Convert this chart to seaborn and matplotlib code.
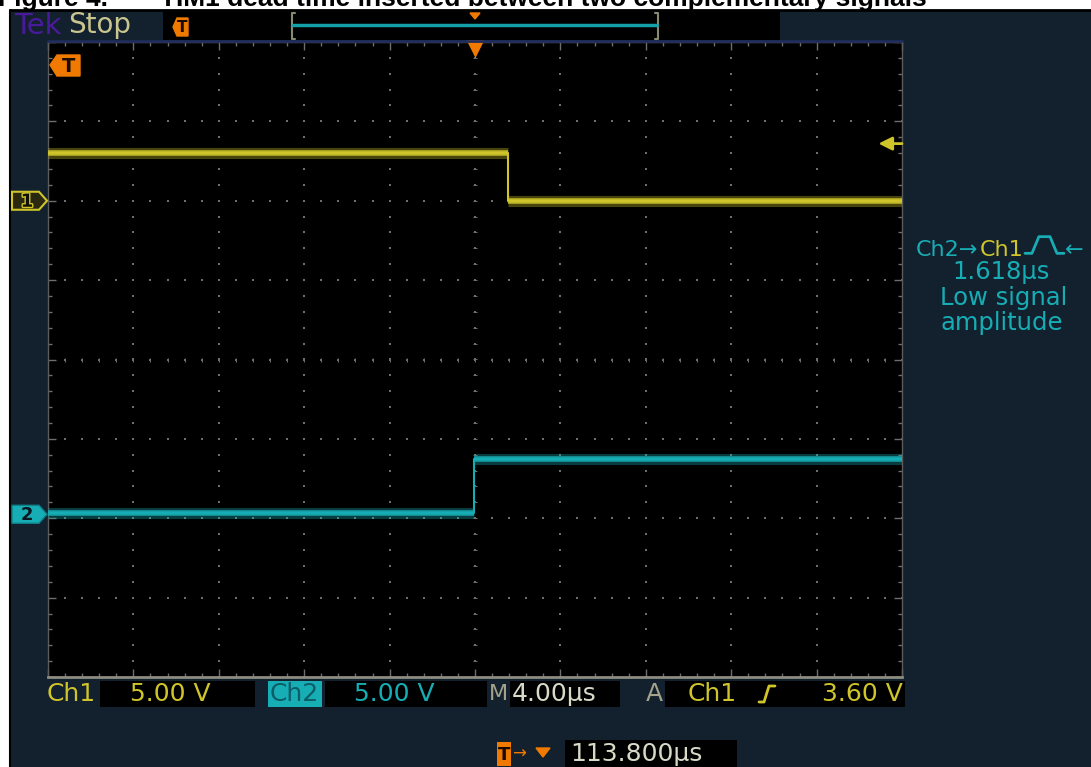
import matplotlib
matplotlib.use("Agg")
import matplotlib.pyplot as plt
import matplotlib.transforms as mtransforms
from matplotlib.patches import Rectangle, Polygon
from matplotlib.lines import Line2D
from matplotlib.offsetbox import TextArea, HPacker, DrawingArea, AnnotationBbox
import matplotlib.patheffects as pe
import numpy as np
import pandas as pd
import seaborn as sns

# ---- acquisition settings -------------------------------------------------
volts_per_div = 5.0
time_per_div_us = 4.0
h_divs, v_divs = 10, 8
ch1_offset_div = 2.0
ch2_offset_div = -1.95
trigger_level_v = 3.60
dead_time_us = 1.618
trigger_delay_us = 113.800

# ---- captured waveforms (time in us, amplitude in V) -----------------------
ch2_edge_us = -0.05
ch1_edge_us = ch2_edge_us + dead_time_us

ch1_time = [-20.0, ch1_edge_us, ch1_edge_us, 20.0]
ch1_volts = [3.02, 3.02, 0.0, 0.0]
ch2_time = [-20.0, ch2_edge_us, ch2_edge_us, 20.0]
ch2_volts = [0.1, 0.1, 3.5, 3.5]

# ---- status readouts --------------------------------------------------------
ch1_scale_label = "5.00 V"
ch2_scale_label = "5.00 V"
timebase_label = "4.00μs"
trigger_label = "3.60 V"
delay_label = "113.800μs"
title_lead = "Figure 4."
title_text = "TIM1 dead time inserted between two complementary signals"

# ---- colours ----------------------------------------------------------------
NAVY = "#13202e"
YEL = "#cfc52a"
CYAN = "#17adb5"
ORANGE = "#f07a00"
GRID = "#6e6e6e"
LIGHT = "#d9d9c8"
KHAKI = "#c9c58f"
PURPLE = "#4a1a9c"

W, H = 1091, 767
sns.set_theme(style="dark")
plt.rcParams["font.family"] = ["DejaVu Sans"]

fig = plt.figure(figsize=(W / 100, H / 100), dpi=100, facecolor="white")


def P(x, y):
    """pixel position -> figure fraction"""
    return x / W, 1 - y / H


def rect(x0, y0, x1, y1, **kw):
    (fx0, fy1), (fx1, fy0) = P(x0, y0), P(x1, y1)
    r = Rectangle((fx0, fy0), fx1 - fx0, fy1 - fy0, transform=fig.transFigure, **kw)
    fig.add_artist(r)
    return r


def poly(pts, **kw):
    p = Polygon([P(x, y) for x, y in pts], closed=True, transform=fig.transFigure, **kw)
    fig.add_artist(p)
    return p


def line(pts, **kw):
    xs, ys = zip(*[P(x, y) for x, y in pts])
    fig.add_artist(Line2D(xs, ys, transform=fig.transFigure, **kw))


def text(x, y, s, **kw):
    fx, fy = P(x, y)
    return fig.text(fx, fy, s, **kw)


# page frame and instrument background
rect(10, 11, W + 2, H + 2, facecolor=NAVY, edgecolor="none", zorder=-5)
line([(10, 10), (W, 10)], color="black", lw=2, zorder=-4)
line([(10, 10), (10, H)], color="black", lw=1.5, zorder=-4)
title_font = dict(fontsize=19, fontweight="bold", family=["Liberation Sans", "DejaVu Sans"],
                  va="baseline", ha="left", color="black")
text(-2, 6, title_lead, **title_font)
text(160, 6, title_text, **title_font)

# ---- graticule axes ---------------------------------------------------------
x0, y0, x1, y1 = 48, 42, 902, 677
fx0, fy1 = P(x0, y0)
fx1, fy0 = P(x1, y1)
ax = fig.add_axes([fx0, fy0, fx1 - fx0, fy1 - fy0])
ax.set_facecolor("black")
half_t = h_divs / 2 * time_per_div_us
ax.set_xlim(-half_t, half_t)
ax.set_ylim(-v_divs / 2, v_divs / 2)

ax.set_xticks(np.arange(-half_t, half_t + 0.01, time_per_div_us))
ax.set_xticks(np.arange(-half_t, half_t + 0.01, time_per_div_us / 5), minor=True)
ax.set_yticks(np.arange(-v_divs / 2, v_divs / 2 + 0.01, 1))
ax.set_yticks(np.arange(-v_divs / 2, v_divs / 2 + 0.01, 0.2), minor=True)
ax.tick_params(which="both", direction="in", top=True, right=True, bottom=True, left=True,
               labelbottom=False, labelleft=False, color=GRID, width=1)
ax.tick_params(which="major", length=6)
ax.tick_params(which="minor", length=3)
ax.grid(False)
for side, sp in ax.spines.items():
    sp.set_color("#5c5c5c")
    sp.set_linewidth(1.0)
    sp.set_linestyle((0, (1, 1)))
ax.spines["bottom"].set_color("#8c8c80")
ax.spines["bottom"].set_linestyle("-")
ax.spines["bottom"].set_linewidth(2)

# dotted division lines
vx = np.arange(1, h_divs) * time_per_div_us - half_t
vy = np.arange(-v_divs / 2, v_divs / 2 + 0.01, 0.2)
gx, gy = np.meshgrid(vx, vy)
ax.scatter(gx.ravel(), gy.ravel(), s=2.5, marker="s", color=GRID, linewidths=0, zorder=1)
hy = np.arange(1, v_divs) - v_divs / 2
hx = np.arange(-half_t, half_t + 0.01, time_per_div_us / 5)
gx, gy = np.meshgrid(hx, hy)
ax.scatter(gx.ravel(), gy.ravel(), s=2.5, marker="s", color=GRID, linewidths=0, zorder=1)
# centre cross ticks
ax.scatter(np.zeros_like(vy), vy, s=8, marker="_", color=GRID, linewidths=0.7, zorder=1)
ax.scatter(hx, np.zeros_like(hx), s=8, marker="|", color=GRID, linewidths=0.7, zorder=1)

# ---- traces -------------------------------------------------------------------
df = pd.concat([
    pd.DataFrame({"time_us": ch1_time, "div": ch1_offset_div + np.array(ch1_volts) / volts_per_div,
                  "channel": "Ch1"}),
    pd.DataFrame({"time_us": ch2_time, "div": ch2_offset_div + np.array(ch2_volts) / volts_per_div,
                  "channel": "Ch2"}),
], ignore_index=True)
palette = {"Ch1": YEL, "Ch2": CYAN}

# noisy band on the settled levels
for ch, g in df.groupby("channel"):
    t = g["time_us"].to_numpy()
    d = g["div"].to_numpy()
    for i in range(len(t) - 1):
        if d[i] == d[i + 1]:
            ax.plot(t[i:i + 2], d[i:i + 2], color=palette[ch], lw=8, alpha=0.35,
                    solid_capstyle="butt", zorder=3)
            ax.plot(t[i:i + 2], d[i:i + 2], color=palette[ch], lw=4, alpha=0.9,
                    solid_capstyle="butt", zorder=4)
sns.lineplot(data=df, x="time_us", y="div", hue="channel", palette=palette, sort=False,
             estimator=None, lw=1.5, legend=False, ax=ax, zorder=5)
ax.set_xlabel("")
ax.set_ylabel("")

# trigger position marker (t = 0) and trigger level arrow on Ch1
trans_down = mtransforms.offset_copy(ax.transData, fig=fig, x=0, y=-5, units="dots")
ax.scatter([0], [v_divs / 2], marker="v", s=230, color=ORANGE, linewidths=0,
           transform=trans_down, clip_on=False, zorder=6)
lvl = ch1_offset_div + trigger_level_v / volts_per_div
ax.annotate("", xy=(half_t - 1.1, lvl), xytext=(half_t, lvl),
            arrowprops=dict(arrowstyle="-|>", color=YEL, lw=2, mutation_scale=20,
                            shrinkA=0, shrinkB=0), annotation_clip=False, zorder=6)

# ---- channel ground markers --------------------------------------------------
ch1_y = 42 + (v_divs / 2 - ch1_offset_div) * (635 / v_divs)
ch2_y = 42 + (v_divs / 2 - ch2_offset_div) * (635 / v_divs)
poly([(12, ch1_y - 9), (39, ch1_y - 9), (47, ch1_y), (39, ch1_y + 9), (12, ch1_y + 9)],
     facecolor="#2a2910", edgecolor=YEL, lw=1.5, zorder=2)
text(27, ch1_y + 1, "1", fontsize=13, fontweight="bold", color="#101008", ha="center", va="center",
     path_effects=[pe.withStroke(linewidth=2, foreground=YEL)], zorder=3)
poly([(12, ch2_y - 9), (39, ch2_y - 9), (47, ch2_y), (39, ch2_y + 9), (12, ch2_y + 9)],
     facecolor=CYAN, edgecolor="#0f7f86", lw=1, zorder=2)
text(27, ch2_y + 1, "2", fontsize=13, fontweight="bold", color="#0a1620", ha="center", va="center",
     zorder=3)

# trigger marker inside the screen
poly([(50, 65), (57, 55), (80, 55), (80, 76), (57, 76)], facecolor=ORANGE, edgecolor=ORANGE,
     lw=1, zorder=5)
text(69, 66, "T", fontsize=14, fontweight="bold", color="#1a0a00", ha="center", va="center", zorder=6)

# ---- top bar -------------------------------------------------------------------
text(14, 26, "Tek", fontsize=21, color=PURPLE, va="center", ha="left")
text(68, 25, "Stop", fontsize=20, color=KHAKI, va="center", ha="left")
rect(163, 12, 780, 40, facecolor="black", edgecolor="none", zorder=1)
poly([(173, 27), (177, 18), (188, 18), (188, 36), (177, 36)], facecolor=ORANGE, edgecolor=ORANGE,
     zorder=2)
text(182, 28, "T", fontsize=11, fontweight="bold", color="#1a0a00", ha="center", va="center", zorder=3)
line([(295, 13), (292, 13), (292, 39), (295, 39)], color="#8a8a70", lw=1.5, zorder=2)
line([(655, 13), (658, 13), (658, 39), (655, 39)], color="#8a8a70", lw=1.5, zorder=2)
line([(293, 25), (657, 25)], color="#13a0a8", lw=2.5, zorder=2)
poly([(470, 13), (480, 13), (475, 19)], facecolor=ORANGE, edgecolor=ORANGE, zorder=3)
line([(48, 41), (902, 41)], color="#1f2c5c", lw=2, zorder=2)

# ---- bottom status bar ---------------------------------------------------------
FS = 18
sb_y = 694
text(47, sb_y, "Ch1", fontsize=FS, color=YEL, va="center", ha="left")
rect(100, 681, 255, 707, facecolor="black", edgecolor="none", zorder=1)
text(130, sb_y, ch1_scale_label, fontsize=FS, color=YEL, va="center", ha="left", zorder=2)
rect(268, 681, 322, 707, facecolor=CYAN, edgecolor="none", zorder=1)
text(270, sb_y, "Ch2", fontsize=FS, color="#0b5d68", va="center", ha="left", zorder=2)
rect(325, 681, 487, 707, facecolor="black", edgecolor="none", zorder=1)
text(354, sb_y, ch2_scale_label, fontsize=FS, color=CYAN, va="center", ha="left", zorder=2)
text(489, sb_y, "M", fontsize=16, color="#a3a38c", va="center", ha="left", zorder=3)
rect(510, 681, 620, 707, facecolor="black", edgecolor="none", zorder=1)
text(512, sb_y, timebase_label, fontsize=FS, color=LIGHT, va="center", ha="left", zorder=2)
text(646, sb_y, "A", fontsize=FS, color="#a3a38c", va="center", ha="left")
rect(665, 681, 905, 707, facecolor="black", edgecolor="none", zorder=1)
text(688, sb_y, "Ch1", fontsize=FS, color=YEL, va="center", ha="left", zorder=2)
line([(759, 702), (764, 702), (769, 686), (775, 686)], color=YEL, lw=2, zorder=2)
text(903, sb_y, trigger_label, fontsize=FS, color=YEL, va="center", ha="right", zorder=2)

# delay readout
rect(497, 742, 511, 766, facecolor=ORANGE, edgecolor="none", zorder=1)
text(504, 755, "T", fontsize=13, fontweight="bold", color="#1a0a00", ha="center", va="center", zorder=2)
text(512, 754, "→", fontsize=12, color=ORANGE, ha="left", va="center")
poly([(536, 748), (550, 748), (543, 757)], facecolor=ORANGE, edgecolor=ORANGE)
rect(565, 740, 737, 770, facecolor="black", edgecolor="none", zorder=1)
text(570, 754, delay_label, fontsize=FS, color=LIGHT, va="center", ha="left", zorder=2)

# ---- measurement readout -------------------------------------------------------
MFS = 16
pulse = DrawingArea(28, 16, 0, 0)
pulse.add_artist(Line2D([0, 5, 10, 18, 23, 28], [2, 2, 14, 14, 2, 2], color=CYAN, lw=2))
row = HPacker(children=[TextArea("Ch2→", textprops=dict(color=CYAN, fontsize=MFS)),
                        TextArea("Ch1", textprops=dict(color=YEL, fontsize=MFS)),
                        pulse,
                        TextArea("←", textprops=dict(color=CYAN, fontsize=MFS))],
              align="baseline", pad=0, sep=1)
fig.add_artist(AnnotationBbox(row, P(1000, 247), xycoords="figure fraction", frameon=False,
                              box_alignment=(0.5, 0.5)))
LFS = 17.5
text(1001, 272, f"{dead_time_us:.3f}μs", fontsize=LFS, color=CYAN, ha="center", va="center")
text(1004, 298, "Low signal", fontsize=LFS, color=CYAN, ha="center", va="center")
text(1002, 323, "amplitude", fontsize=LFS, color=CYAN, ha="center", va="center")

fig.savefig("out.png", dpi=100, facecolor="white")
